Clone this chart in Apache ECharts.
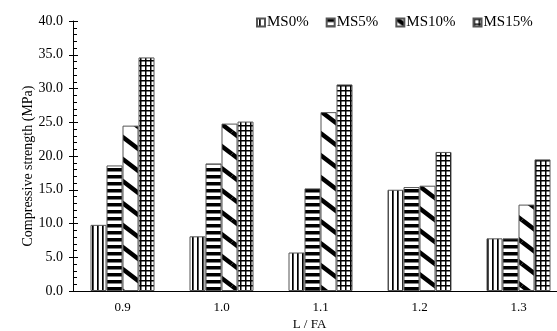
<!DOCTYPE html>
<html>
<head>
<meta charset="utf-8">
<script src="https://cdn.jsdelivr.net/npm/echarts@6/dist/echarts.min.js"></script>
<style>
  html, body { margin: 0; padding: 0; background: #fff; }
  #chart { width: 557px; height: 331px; }
</style>
</head>
<body>
<div id="chart"></div>
<script>
// L/FA ratios on the x axis
var categories = ['0.9', '1.0', '1.1', '1.2', '1.3'];
var seriesNames = ['MS0%', 'MS5%', 'MS10%', 'MS15%'];
// compressive strength (MPa)
var ms0 = [9.8, 8.1, 5.7, 15.0, 7.8];
var ms5 = [18.6, 18.9, 15.2, 15.4, 7.8];
var ms10 = [24.5, 24.8, 26.5, 15.6, 12.8];
var ms15 = [34.6, 25.1, 30.6, 20.6, 19.5];
var yTicks = [0, 5, 10, 15, 20, 25, 30, 35, 40];

// small canvases used as bar fill patterns
function makeTile(w, h, draw){
    var c = document.createElement('canvas');
    c.width = w; c.height = h;
    var ctx = c.getContext('2d');
    ctx.fillStyle = '#fff';
    ctx.fillRect(0, 0, w, h);
    ctx.fillStyle = '#000';
    ctx.strokeStyle = '#000';
    draw(ctx, w, h);
    return { image: c, repeat: 'repeat' };
}

var vertical = makeTile(5, 5, function(ctx){
    ctx.fillRect(2, 0, 1.7, 5);
});
var horizontal = makeTile(7, 7, function(ctx){
    ctx.fillRect(0, 0, 7, 3.5);
});
var diagonal = makeTile(29, 22, function(ctx, w, h){
    ctx.lineWidth = 4.5;
    [[0, 0], [-w, 0], [w, 0], [0, -h], [0, h]].forEach(function(o){
        ctx.beginPath();
        ctx.moveTo(o[0], o[1]);
        ctx.lineTo(o[0] + w, o[1] + h);
        ctx.stroke();
    });
});
var grid = makeTile(5, 5, function(ctx){
    ctx.fillRect(0, 0, 5, 1.5);
    ctx.fillRect(0, 0, 1.5, 5);
});

var fills = [vertical, horizontal, diagonal, grid];
var values = [ms0, ms5, ms10, ms15];

var chart = echarts.init(document.getElementById('chart'));
var font = 'Liberation Serif';

var option = {
    animation: false,
    backgroundColor: '#fff',
    textStyle: { fontFamily: font },
    legend: {
        left: 251,
        top: 10,
        itemWidth: 8,
        itemHeight: 8,
        itemGap: 17,
        icon: 'rect',
        textStyle: { fontFamily: font, fontSize: 15, color: '#000', padding: [0, 0, 0, -3] },
        data: seriesNames
    },
    grid: {
        left: 73,
        top: 21,
        width: 495,
        bottom: 40,
        containLabel: false,
        outerBoundsMode: 'none'
    },
    xAxis: {
        type: 'category',
        data: categories,
        name: 'L / FA',
        nameLocation: 'middle',
        nameGap: 27,
        nameMoveOverlap: false,
        nameTextStyle: { fontFamily: font, fontSize: 13, color: '#000', padding: [0, 22, 0, 0] },
        axisLine: { lineStyle: { color: '#000', width: 1 } },
        axisTick: { show: false },
        axisLabel: { fontFamily: font, fontSize: 13, color: '#000', margin: 10 }
    },
    yAxis: [
        {
            type: 'value',
            min: yTicks[0],
            max: yTicks[yTicks.length - 1],
            interval: 5,
            name: 'Compressive strength (MPa)',
            nameLocation: 'middle',
            nameGap: 38,
            nameMoveOverlap: false,
            nameTextStyle: { fontFamily: font, fontSize: 14, color: '#000', padding: [0, 20, 0, 0] },
            axisLine: { show: true, lineStyle: { color: '#000' } },
            axisTick: { show: true, length: 4, lineStyle: { color: '#000' } },
            axisLabel: {
                fontFamily: font, fontSize: 14, color: '#000', margin: 10,
                formatter: function(v){ return v.toFixed(1); }
            },
            splitLine: { show: false }
        },
        {
            type: 'value',
            position: 'left',
            offset: 0,
            min: yTicks[0],
            max: yTicks[yTicks.length - 1],
            interval: 5,
            axisLine: { show: false },
            axisTick: { show: true, inside: true, length: 5, lineStyle: { color: '#000' } },
            minorTick: { show: true, splitNumber: 5, length: 4, lineStyle: { color: '#000' } },
            axisLabel: { show: false },
            splitLine: { show: false }
        }
    ],
    series: seriesNames.map(function(name, i){
        return {
            name: name,
            type: 'bar',
            yAxisIndex: 0,
            data: values[i],
            barWidth: 16,
            barGap: '0%',
            itemStyle: {
                color: fills[i],
                borderColor: '#555',
                borderWidth: 1
            }
        };
    })
};
chart.setOption(option);
</script>
</body>
</html>
